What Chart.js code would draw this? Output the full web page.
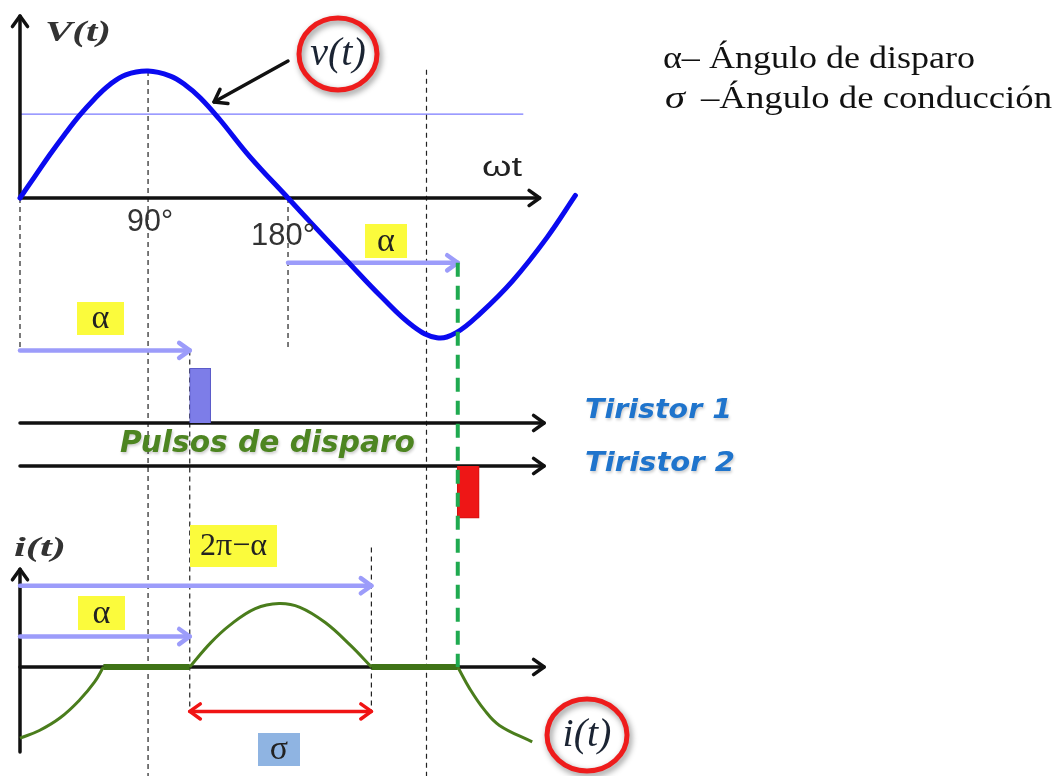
<!DOCTYPE html>
<html>
<head>
<meta charset="utf-8">
<script src="https://cdn.jsdelivr.net/npm/chart.js@4.4.0/dist/chart.umd.min.js"></script>
<style>
  html, body { margin: 0; padding: 0; background: #fff; }
  canvas { display: block; }
</style>
</head>
<body>
<canvas id="grafica" width="1059" height="776"></canvas>
<script>
// === Tensión v(t) (ωt en grados) ===
const anguloV = [0, 10, 20, 30, 40, 50, 60, 71, 86, 101, 111, 121, 134, 154, 180, 195, 220, 242, 264, 280, 293, 309, 331, 354, 373];
const tensionV = [0, 0.17, 0.34, 0.50, 0.65, 0.78, 0.89, 0.97, 1.0, 0.96, 0.89, 0.79, 0.62, 0.33, 0, -0.19, -0.50, -0.77, -1.01, -1.10, -1.06, -0.91, -0.65, -0.31, 0.02];

// === Corriente i(t) por tramos ===
const anguloInicio = [0, 13, 27, 40, 50, 56];
const corrienteInicio = [-0.56, -0.50, -0.40, -0.26, -0.12, 0];
const anguloConduccion = [114, 128, 141, 158, 174, 188, 205, 222, 236];
const corrienteConduccion = [0, 0.19, 0.33, 0.46, 0.50, 0.47, 0.35, 0.17, 0];
const anguloFinal = [294, 302, 312, 322, 344];
const corrienteFinal = [0, -0.17, -0.34, -0.46, -0.59];

// === Disparo ===
const alfa = 114;
const finConduccion = 236;
const anguloPulso = [alfa, 180 + alfa];
const altoPulso = [0.43, -0.41];
const anchoPulso = 14;

const ticksAngulo = [86, 180];
const ticksTexto = ['90°', '180°'];
const nivelReferencia = 0.66;

const puntos = (xs, ys) => xs.map((x, i) => ({ x: x, y: ys[i] }));

// Segmentos de corriente nula (línea gruesa)
const tramosNulos = [
  { x: anguloInicio[anguloInicio.length - 1], y: 0 },
  { x: alfa, y: 0 },
  { x: 200, y: null },
  { x: finConduccion, y: 0 },
  { x: 180 + alfa, y: 0 }
];

const SERIF = '"Liberation Serif", "Times New Roman", serif';
const SANS = '"Liberation Sans", Arial, sans-serif';
const LIBRE = '"DejaVu Sans", Verdana, sans-serif';
const AZUL_FLECHA = '#9c9cfa';

function flecha(ctx, x1, y1, x2, y2, color, ancho, punta, doble) {
  ctx.save();
  ctx.strokeStyle = color;
  ctx.lineWidth = ancho;
  ctx.lineCap = 'round';
  ctx.lineJoin = 'round';
  ctx.beginPath();
  ctx.moveTo(x1, y1);
  ctx.lineTo(x2, y2);
  ctx.stroke();
  const cabeza = (xa, ya, xb, yb) => {
    const ang = Math.atan2(yb - ya, xb - xa);
    ctx.beginPath();
    ctx.moveTo(xb - punta * Math.cos(ang - 0.62), yb - punta * Math.sin(ang - 0.62));
    ctx.lineTo(xb, yb);
    ctx.lineTo(xb - punta * Math.cos(ang + 0.62), yb - punta * Math.sin(ang + 0.62));
    ctx.stroke();
  };
  cabeza(x1, y1, x2, y2);
  if (doble) cabeza(x2, y2, x1, y1);
  ctx.restore();
}

function discontinua(ctx, x, y1, y2, color, ancho, patron) {
  ctx.save();
  ctx.strokeStyle = color;
  ctx.lineWidth = ancho;
  ctx.setLineDash(patron);
  ctx.beginPath();
  ctx.moveTo(x, y1);
  ctx.lineTo(x, y2);
  ctx.stroke();
  ctx.restore();
}

// Texto ajustado a un ancho dado
function texto(ctx, s, x, y, fuente, color, ancho, alinear) {
  ctx.save();
  ctx.font = fuente;
  ctx.fillStyle = color;
  ctx.textBaseline = 'alphabetic';
  ctx.textAlign = 'left';
  const w = ctx.measureText(s).width;
  const esc = ancho ? ancho / w : 1;
  const real = w * esc;
  let x0 = x;
  if (alinear === 'center') x0 = x - real / 2;
  ctx.translate(x0, y);
  ctx.scale(esc, 1);
  ctx.fillText(s, 0, 0);
  ctx.restore();
}

function etiqueta(ctx, s, x1, y1, x2, y2, fondo, fuente, color) {
  ctx.save();
  ctx.fillStyle = fondo;
  ctx.fillRect(x1, y1, x2 - x1, y2 - y1);
  ctx.font = fuente;
  ctx.fillStyle = color;
  ctx.textAlign = 'center';
  ctx.textBaseline = 'middle';
  ctx.fillText(s, (x1 + x2) / 2, (y1 + y2) / 2 + 1);
  ctx.restore();
}

function circulo(ctx, cx, cy, rx, ry, s, fuente) {
  ctx.save();
  ctx.shadowColor = 'rgba(0,0,0,0.45)';
  ctx.shadowBlur = 6;
  ctx.shadowOffsetX = 2;
  ctx.shadowOffsetY = 3;
  ctx.strokeStyle = '#ee1c1c';
  ctx.lineWidth = 5;
  ctx.beginPath();
  ctx.ellipse(cx, cy, rx, ry, 0, 0, Math.PI * 2);
  ctx.stroke();
  ctx.restore();
  ctx.save();
  ctx.font = fuente;
  ctx.fillStyle = '#1b2433';
  ctx.textAlign = 'center';
  ctx.textBaseline = 'middle';
  ctx.fillText(s, cx, cy);
  ctx.restore();
}

const dibujo = {
  id: 'dibujo',
  beforeDatasetsDraw(chart) {
    const { ctx, scales, chartArea } = chart;
    const x = a => scales.x.getPixelForValue(a);
    const yV = v => scales.yV.getPixelForValue(v);
    const yI = v => scales.yI.getPixelForValue(v);
    const yT1 = scales.yT1.getPixelForValue(0);
    const yT2 = scales.yT2.getPixelForValue(0);

    // Nivel de referencia
    ctx.save();
    ctx.strokeStyle = '#7a7aff';
    ctx.lineWidth = 1.2;
    ctx.beginPath();
    ctx.moveTo(x(0), yV(nivelReferencia));
    ctx.lineTo(x(338), yV(nivelReferencia));
    ctx.stroke();
    ctx.restore();

    // Guías verticales
    const negro = '#222';
    const patron = [5, 4];
    discontinua(ctx, x(0), yV(0), yV(-1.2), negro, 1.2, patron);
    discontinua(ctx, x(ticksAngulo[0]), yV(1.0), chartArea.bottom, negro, 1.2, patron);
    discontinua(ctx, x(alfa), yV(-1.2), yI(-0.35), negro, 1.2, patron);
    discontinua(ctx, x(180), yV(0), yV(-1.2), negro, 1.2, patron);
    discontinua(ctx, x(finConduccion), yI(0.94), yI(-0.35), negro, 1.2, patron);
    discontinua(ctx, x(273), yV(1.01), chartArea.bottom, negro, 1.2, patron);

    // Ejes
    const eje = '#111';
    flecha(ctx, x(0), yV(0), x(0), 16, eje, 3.5, 13);
    flecha(ctx, x(0), yV(0), x(349), yV(0), eje, 3.5, 13);
    flecha(ctx, x(0), yT1, x(352), yT1, eje, 3.5, 13);
    flecha(ctx, x(0), yT2, x(352), yT2, eje, 3.5, 13);
    flecha(ctx, x(0), yI(-0.67), x(0), yI(0.77), eje, 3.5, 13);
    flecha(ctx, x(0), yI(0), x(352), yI(0), eje, 3.5, 13);

    // Flechas de ángulos
    flecha(ctx, x(180), yV(-0.51), x(180 + alfa), yV(-0.51), AZUL_FLECHA, 4.5, 13);
    flecha(ctx, x(0), yV(-1.2), x(alfa), yV(-1.2), AZUL_FLECHA, 4.5, 13);
    flecha(ctx, x(0), yI(0.64), x(finConduccion), yI(0.64), AZUL_FLECHA, 4.5, 13);
    flecha(ctx, x(0), yI(0.24), x(alfa), yI(0.24), AZUL_FLECHA, 4.5, 13);
    flecha(ctx, x(alfa), yI(-0.35), x(finConduccion), yI(-0.35), '#f01414', 3.5, 13, true);
  },
  afterDatasetsDraw(chart) {
    const { ctx, scales } = chart;
    const x = a => scales.x.getPixelForValue(a);
    const yV = v => scales.yV.getPixelForValue(v);
    const yI = v => scales.yI.getPixelForValue(v);

    // Disparo del segundo tiristor
    discontinua(ctx, x(180 + alfa), yV(-0.51), yI(0), '#1faa50', 4, [14, 9]);

    // Marcas del eje ωt
    texto(ctx, ticksTexto[0], x(ticksAngulo[0]) + 2, 231, '32px ' + SANS, '#333', 46, 'center');
    texto(ctx, ticksTexto[1], x(ticksAngulo[1]) - 5, 245, '32px ' + SANS, '#333', 64, 'center');

    // Nombres de ejes
    texto(ctx, 'V(t)', 45, 41, 'bold italic 30px ' + SERIF, '#333', 66);
    texto(ctx, 'ωt', 482, 176, '27px ' + SANS, '#222', 40);
    texto(ctx, 'i(t)', 14, 556, 'bold italic 27px ' + SERIF, '#333', 52);

    // Leyenda
    texto(ctx, 'α– Ángulo de disparo', 663, 68, '32px ' + SERIF, '#111', 312);
    texto(ctx, 'σ', 665, 108, 'italic 32px ' + SERIF, '#111', 20);
    texto(ctx, '–Ángulo de conducción', 701, 108, '32px ' + SERIF, '#111', 351);

    // Etiquetas de pulsos
    ctx.save();
    ctx.shadowColor = 'rgba(0,0,0,0.2)';
    ctx.shadowBlur = 3;
    ctx.shadowOffsetX = 1;
    ctx.shadowOffsetY = 2;
    texto(ctx, 'Pulsos de disparo', 120, 452, 'bold italic 31px ' + LIBRE, '#4d8521', 295);
    texto(ctx, 'Tiristor 1', 585, 418, 'bold italic 26px ' + LIBRE, '#1f74cc', 147);
    texto(ctx, 'Tiristor 2', 585, 471, 'bold italic 26px ' + LIBRE, '#1f74cc', 150);
    ctx.restore();

    // Recuadros
    const amarillo = '#fbfb3c';
    etiqueta(ctx, 'α', 365, 224, 407, 258, amarillo, '34px ' + SERIF, '#222');
    etiqueta(ctx, 'α', 77, 302, 124, 335, amarillo, '34px ' + SERIF, '#222');
    etiqueta(ctx, '2π−α', 190, 525, 277, 567, amarillo, '32px ' + SERIF, '#222');
    etiqueta(ctx, 'α', 78, 596, 125, 630, amarillo, '34px ' + SERIF, '#222');
    etiqueta(ctx, 'σ', 258, 733, 300, 766, '#8fb4e2', '34px ' + SERIF, '#222');

    // Señalador de v(t)
    flecha(ctx, 288, 61, 214, 102, '#111', 3.5, 14);
    circulo(ctx, 338, 54, 39, 36, 'v(t)', 'italic 40px ' + SERIF);
    circulo(ctx, 587, 735, 40, 36, 'i(t)', 'italic 40px ' + SERIF);
  }
};

// Escalas: 1.489 px por grado, 127 px por unidad
const pxGrado = 1.489;
const pxUnidad = 127;
const W = 1059, H = 776;
const escalaY = (cero) => ({
  type: 'linear', display: false,
  min: -(H - cero) / pxUnidad, max: cero / pxUnidad
});

function crearGrafica() {
  new Chart(document.getElementById('grafica'), {
    type: 'line',
    data: {
      datasets: [
        {
          label: 'v(t)',
          data: puntos(anguloV, tensionV),
          yAxisID: 'yV',
          borderColor: '#0a0af0',
          borderWidth: 5,
          pointRadius: 0,
          tension: 0.4,
          borderCapStyle: 'round'
        },
        {
          label: 'i(t) inicio',
          data: puntos(anguloInicio, corrienteInicio),
          yAxisID: 'yI',
          borderColor: '#4a7d1c',
          borderWidth: 3,
          pointRadius: 0,
          tension: 0.4
        },
        {
          label: 'i(t) conducción',
          data: puntos(anguloConduccion, corrienteConduccion),
          yAxisID: 'yI',
          borderColor: '#4a7d1c',
          borderWidth: 3,
          pointRadius: 0,
          tension: 0.4
        },
        {
          label: 'i(t) final',
          data: puntos(anguloFinal, corrienteFinal),
          yAxisID: 'yI',
          borderColor: '#4a7d1c',
          borderWidth: 3,
          pointRadius: 0,
          tension: 0.4
        },
        {
          label: 'i(t) nula',
          data: tramosNulos,
          yAxisID: 'yI',
          borderColor: '#3f7317',
          borderWidth: 6,
          pointRadius: 0,
          spanGaps: false
        },
        {
          type: 'bar',
          label: 'Tiristor 1',
          data: [{ x: anguloPulso[0] + anchoPulso / 2, y: altoPulso[0] }],
          yAxisID: 'yT1',
          backgroundColor: '#7d7de8',
          borderColor: '#5b5bc9',
          borderWidth: 1,
          barThickness: 21,
          grouped: false
        },
        {
          type: 'bar',
          label: 'Tiristor 2',
          data: [{ x: anguloPulso[1] + anchoPulso / 2, y: altoPulso[1] }],
          yAxisID: 'yT2',
          backgroundColor: '#ee1616',
          borderColor: '#d01010',
          borderWidth: 1,
          barThickness: 22,
          grouped: false
        }
      ]
    },
    options: {
      responsive: false,
      animation: false,
      devicePixelRatio: 1,
      layout: { padding: 0 },
      scales: {
        x: {
          type: 'linear', display: false, offset: false,
          min: -20 / pxGrado, max: (W - 20) / pxGrado
        },
        yV: escalaY(198),
        yI: escalaY(667),
        yT1: escalaY(423),
        yT2: escalaY(466)
      },
      plugins: {
        legend: { display: false },
        tooltip: { enabled: false }
      }
    },
    plugins: [dibujo]
  });
}

// Cargar fuentes del sistema antes de dibujar
Promise.all([
  document.fonts.load('32px "Liberation Serif"', 'αÁσπ'),
  document.fonts.load('italic 32px "Liberation Serif"', 'σv'),
  document.fonts.load('bold italic 30px "Liberation Serif"', 'V'),
  document.fonts.load('30px "Liberation Sans"', '90°ω')
]).catch(() => null).then(crearGrafica);
</script>
</body>
</html>
